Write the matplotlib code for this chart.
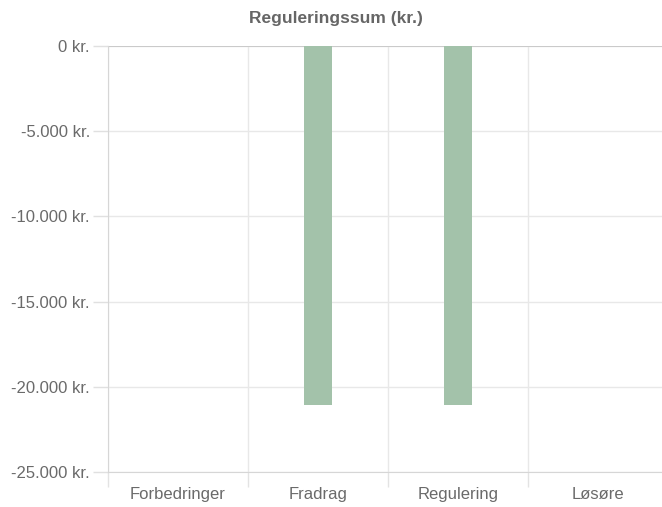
import numpy as np
import matplotlib.pyplot as plt
from matplotlib.ticker import FuncFormatter, FixedLocator

plt.rcParams['font.family'] = ['Liberation Sans', 'DejaVu Sans']

kategorier = ["Forbedringer", "Fradrag", "Regulering", "Løsøre"]
reguleringssum = [0, -21070, -21070, 0]
y_ticks = [0, -5000, -10000, -15000, -20000, -25000]

fig = plt.figure(figsize=(6.62, 5.07), dpi=100)
ax = fig.add_axes([108 / 662, 0.069, 560 / 662, 0.8403])

x = np.arange(len(kategorier))
ax.bar(x, reguleringssum, width=0.2, color="#a3c2aa", linewidth=0, zorder=3)

ax.set_xlim(-0.5, len(kategorier) - 0.5)
ax.set_ylim(-25000, 0)


def kr(v, pos):
    s = "{:,.0f}".format(v).replace(",", ".")
    return s + " kr."


ax.yaxis.set_major_locator(FixedLocator(y_ticks))
ax.yaxis.set_major_formatter(FuncFormatter(kr))
ax.set_xticks(x)
ax.set_xticklabels(kategorier)
ax.xaxis.set_minor_locator(FixedLocator(np.arange(-0.5, len(kategorier), 1.0)))

ax.tick_params(axis="y", length=11, width=1, color="#e0e0e0", pad=2,
               labelsize=12, labelcolor="#6a6a6a")
ax.tick_params(axis="x", which="major", length=0, pad=11,
               labelsize=12, labelcolor="#6a6a6a")
ax.tick_params(axis="x", which="minor", length=11, width=1, color="#e3e3e3")

ax.grid(axis="y", color="#e8e8e8", linewidth=1, zorder=0)
ax.grid(axis="x", which="minor", color="#e8e8e8", linewidth=1, zorder=0)
ax.axhline(0, color="#c4c4c4", linewidth=1.2, zorder=2)

ax.spines["right"].set_visible(False)
ax.spines["top"].set_visible(False)
ax.spines["left"].set_color("#d6d6d6")
ax.spines["bottom"].set_color("#d6d6d6")

fig.text(336 / 662, 1 - 18 / 507, "Reguleringssum (kr.)", ha="center", va="center",
         fontsize=12.5, fontweight="bold", color="#666666")

fig.savefig("out.png", dpi=100)
